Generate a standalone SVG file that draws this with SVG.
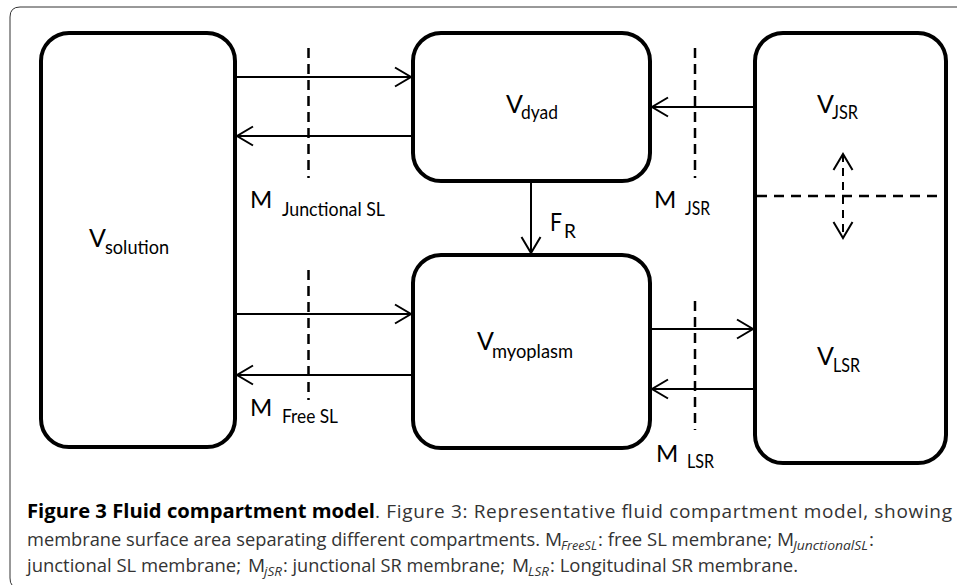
<svg xmlns="http://www.w3.org/2000/svg" width="957" height="585" viewBox="0 0 957 585">
<defs>
<style>
.box{fill:#fff;stroke:#000;stroke-width:4}
.conn{stroke:#000;stroke-width:2;fill:none}
.dash{stroke:#000;stroke-width:2.5;stroke-dasharray:10 6;fill:none}
.big{font-family:Lato,"Open Sans",sans-serif;font-size:25px;fill:#000}
.sub{font-family:Lato,"Open Sans",sans-serif;font-size:19px;fill:#000}
.cap{font-family:"Open Sans","DejaVu Sans",sans-serif;font-size:19px;fill:#333}
.capb{font-family:"Open Sans","DejaVu Sans",sans-serif;font-size:19px;font-weight:bold;fill:#000}
.capi{font-size:13px;font-style:italic}
</style>
<marker id="ah" markerUnits="userSpaceOnUse" viewBox="-18 -11 20 22" markerWidth="20" markerHeight="22" refX="0" refY="0" orient="auto-start-reverse" overflow="visible">
<path d="M -16 -9.5 L 0 0 L -16 9.5" fill="none" stroke="#000" stroke-width="2"/>
</marker>
</defs>
<rect width="957" height="585" fill="#fff"/>
<path d="M 12 585 Q 10 583 10 578 L 10 17 Q 10 7 20 7 L 957 7" fill="none" stroke="#333" stroke-width="1"/>

<g id="solution">
<rect class="box" x="41" y="33" width="194" height="414" rx="28"/>
<text class="big" x="89" y="247">V</text>
<text class="sub" x="105" y="254" textLength="64" lengthAdjust="spacingAndGlyphs">solution</text>
</g>
<g id="dyad">
<rect class="box" x="413" y="33" width="237" height="148" rx="28"/>
<text class="big" x="506" y="113">V</text>
<text class="sub" x="521" y="119" textLength="37" lengthAdjust="spacingAndGlyphs">dyad</text>
</g>
<g id="myoplasm">
<rect class="box" x="413" y="255" width="237" height="193" rx="28"/>
<text class="big" x="477" y="350">V</text>
<text class="sub" x="492" y="358" textLength="81" lengthAdjust="spacingAndGlyphs">myoplasm</text>
</g>
<g id="sr">
<rect class="box" x="755" y="33" width="191" height="430" rx="28"/>
<text class="big" x="817" y="113">V</text>
<text class="sub" x="832" y="119" textLength="26" lengthAdjust="spacingAndGlyphs">JSR</text>
<text class="big" x="817" y="365">V</text>
<text class="sub" x="833" y="372" textLength="27" lengthAdjust="spacingAndGlyphs">LSR</text>
<line class="dash" x1="757" y1="196" x2="945" y2="196" style="stroke-dasharray:10 7"/>
</g>

<g id="membranes">
<line class="dash" x1="308.5" y1="48" x2="308.5" y2="178"/>
<line class="dash" x1="308.5" y1="270" x2="308.5" y2="400"/>
<line class="dash" x1="695" y1="48" x2="695" y2="178"/>
<line class="dash" x1="695" y1="301" x2="695" y2="430"/>
<text class="big" x="250" y="208" style="font-size:24px">M</text>
<text class="sub" x="282" y="216" textLength="103" lengthAdjust="spacingAndGlyphs">Junctional SL</text>
<text class="big" x="250" y="416" style="font-size:24px">M</text>
<text class="sub" x="282" y="423" textLength="56" lengthAdjust="spacingAndGlyphs">Free SL</text>
<text class="big" x="654" y="208" style="font-size:24px">M</text>
<text class="sub" x="685" y="215" textLength="25" lengthAdjust="spacingAndGlyphs">JSR</text>
<text class="big" x="656" y="462" style="font-size:24px">M</text>
<text class="sub" x="687" y="468" textLength="27" lengthAdjust="spacingAndGlyphs">LSR</text>
</g>

<g id="connectors">
<line class="conn" x1="237" y1="77" x2="411" y2="77" marker-end="url(#ah)"/>
<line class="conn" x1="411" y1="136" x2="237" y2="136" marker-end="url(#ah)"/>
<line class="conn" x1="237" y1="314" x2="411" y2="314" marker-end="url(#ah)"/>
<line class="conn" x1="411" y1="375" x2="237" y2="375" marker-end="url(#ah)"/>
<line class="conn" x1="753" y1="107" x2="652" y2="107" marker-end="url(#ah)"/>
<line class="conn" x1="652" y1="329" x2="753" y2="329" marker-end="url(#ah)"/>
<line class="conn" x1="753" y1="389" x2="652" y2="389" marker-end="url(#ah)"/>
<line class="conn" x1="531" y1="183" x2="531" y2="253" marker-end="url(#ah)"/>
<line class="conn" x1="843" y1="154" x2="843" y2="238" style="stroke-dasharray:8 6" marker-start="url(#ah)" marker-end="url(#ah)"/>
<text class="big" x="550" y="231" textLength="12" lengthAdjust="spacingAndGlyphs">F</text>
<text class="sub" x="564" y="238">R</text>
</g>

<g id="caption">
<text class="capb" x="27" y="518" textLength="348" lengthAdjust="spacingAndGlyphs">Figure 3 Fluid compartment model</text>
<text class="cap" x="375" y="518" textLength="577" lengthAdjust="spacing">. Figure 3: Representative fluid compartment model, showing</text>
<text class="cap" x="27" y="546" textLength="513" lengthAdjust="spacingAndGlyphs">membrane surface area separating different compartments.</text>
<text class="cap" x="545" y="546">M<tspan class="capi" x="561" dy="4" textLength="36" lengthAdjust="spacingAndGlyphs">FreeSL</tspan><tspan x="598" dy="-4" textLength="174" lengthAdjust="spacingAndGlyphs">: free SL membrane;</tspan></text>
<text class="cap" x="777" y="546">M<tspan class="capi" x="793" dy="4" textLength="75" lengthAdjust="spacingAndGlyphs">JunctionalSL</tspan><tspan x="869" dy="-4">:</tspan></text>
<text class="cap" x="27" y="572" textLength="214" lengthAdjust="spacingAndGlyphs">junctional SL membrane;</text>
<text class="cap" x="248" y="572">M<tspan class="capi" x="264" dy="4" textLength="18" lengthAdjust="spacingAndGlyphs">jSR</tspan><tspan x="283" dy="-4" textLength="222" lengthAdjust="spacingAndGlyphs">: junctional SR membrane;</tspan></text>
<text class="cap" x="512" y="572">M<tspan class="capi" x="528" dy="4" textLength="21" lengthAdjust="spacingAndGlyphs">LSR</tspan><tspan x="550" dy="-4" textLength="248" lengthAdjust="spacingAndGlyphs">: Longitudinal SR membrane.</tspan></text>
</g>
</svg>
